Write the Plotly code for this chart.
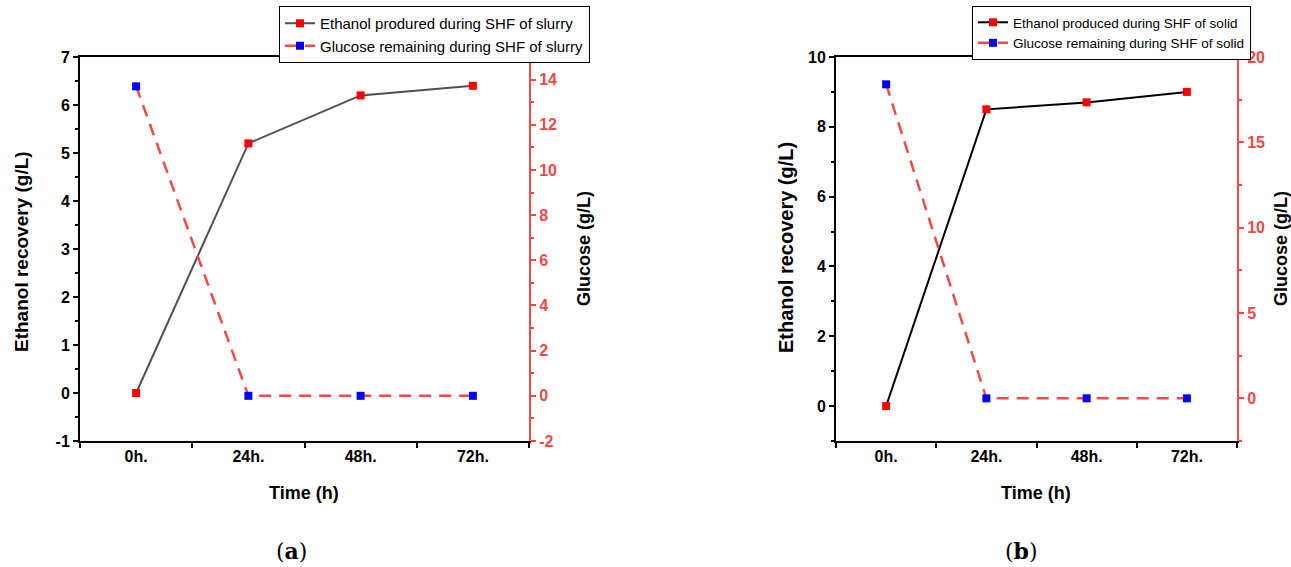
import plotly.graph_objects as go

categories = ["0h.", "24h.", "48h.", "72h."]
ethanol_a = [0, 5.2, 6.2, 6.4]
glucose_a = [13.7, 0, 0, 0]
ethanol_b = [0, 8.5, 8.7, 9.0]
glucose_b = [18.4, 0, 0, 0]

ticks_ya = [-1, 0, 1, 2, 3, 4, 5, 6, 7]
ticks_y2a = [-2, 0, 2, 4, 6, 8, 10, 12, 14]
ticks_yb = [0, 2, 4, 6, 8, 10]
ticks_y2b = [0, 5, 10, 15, 20]

W, H = 1291, 567
RED = "#f24848"
FONT = "Liberation Sans"

def px(x):
    return x / W

def py(y):
    return 1 - y / H

def lab(vals):
    return [str(v) for v in vals]

fig = go.Figure()

fig.add_trace(go.Scatter(x=categories, y=ethanol_a, mode="lines+markers",
                         name="Ethanol produred during SHF of slurry",
                         line=dict(color="#505050", width=2),
                         marker=dict(symbol="square", size=8, color="#ff0000"),
                         xaxis="x", yaxis="y", legend="legend"))
fig.add_trace(go.Scatter(x=categories, y=glucose_a, mode="lines+markers",
                         name="Glucose remaining during SHF of slurry",
                         line=dict(color=RED, width=2.5, dash="12px,8px"),
                         marker=dict(symbol="square", size=8, color="#0000ff"),
                         xaxis="x", yaxis="y2", legend="legend"))
fig.add_trace(go.Scatter(x=categories, y=ethanol_b, mode="lines+markers",
                         name="Ethanol produced during SHF of solid",
                         line=dict(color="#000000", width=2),
                         marker=dict(symbol="square", size=8, color="#ff0000"),
                         xaxis="x2", yaxis="y3", legend="legend2"))
fig.add_trace(go.Scatter(x=categories, y=glucose_b, mode="lines+markers",
                         name="Glucose remaining during SHF of solid",
                         line=dict(color=RED, width=2.5, dash="12px,8px"),
                         marker=dict(symbol="square", size=8, color="#0000ff"),
                         xaxis="x2", yaxis="y4", legend="legend2"))

tickfont = dict(family=FONT, size=16, color="#000", weight="bold")
redfont = dict(family=FONT, size=16, color=RED, weight="bold")

def xaxis(dom, anchor):
    return dict(domain=dom, anchor=anchor, type="category", categoryorder="array",
                categoryarray=categories, range=[-0.5, 3.5], tickson="boundaries",
                ticks="outside", ticklen=5, tickwidth=1.5, tickcolor="#000",
                showline=True, linecolor="#000", linewidth=2, mirror=True,
                showgrid=False, zeroline=False, tickfont=tickfont, automargin=False)

def yleft(dom, anchor, rng, tv, mdtick):
    return dict(domain=dom, anchor=anchor, range=rng, tickmode="array",
                tickvals=tv, ticktext=lab(tv),
                ticks="outside", ticklen=5, tickwidth=1.5, tickcolor="#000",
                minor=dict(dtick=mdtick, tick0=0, ticks="outside", ticklen=3, tickcolor="#000"),
                showline=True, linecolor="#000", linewidth=2,
                showgrid=False, zeroline=False, tickfont=tickfont, automargin=False)

def yright(over, anchor, rng, tv, mdtick):
    return dict(overlaying=over, anchor=anchor, side="right", range=rng, tickmode="array",
                tickvals=tv, ticktext=lab(tv),
                ticks="outside", ticklen=5, tickwidth=1.5, tickcolor=RED,
                minor=dict(dtick=mdtick, tick0=0, ticks="outside", ticklen=3, tickcolor=RED),
                showline=True, linecolor=RED, linewidth=2,
                showgrid=False, zeroline=False, tickfont=redfont, automargin=False)

ydom = [py(441), py(57)]

legend_common = dict(xanchor="left", yanchor="top", bgcolor="white", bordercolor="#000",
                     borderwidth=1, tracegroupgap=0, itemwidth=30)

fig.update_layout(
    width=W, height=H, margin=dict(l=0, r=0, t=0, b=0, autoexpand=False),
    paper_bgcolor="white", plot_bgcolor="white",
    xaxis=xaxis([px(80), px(529)], "y"),
    yaxis=yleft(ydom, "x", [-1, 7], ticks_ya, 0.5),
    yaxis2=yright("y", "x", [-2, 15], ticks_y2a, 1),
    xaxis2=xaxis([px(836), px(1237)], "y3"),
    yaxis3=yleft(ydom, "x2", [-1, 10], ticks_yb, 1),
    yaxis4=yright("y3", "x2", [-2.5, 20], ticks_y2b, 2.5),
    legend=dict(x=px(279), y=py(6), font=dict(family=FONT, size=15, color="#000"),
                **legend_common),
    legend2=dict(x=px(972), y=py(6), font=dict(family=FONT, size=13.5, color="#000"),
                 **legend_common),
    showlegend=True,
)

ann = [
    dict(text="Time (h)", x=px(304), y=py(493), textangle=0, size=18),
    dict(text="Time (h)", x=px(1036), y=py(493), textangle=0, size=18),
    dict(text="Ethanol recovery (g/L)", x=px(21), y=py(252), textangle=-90, size=19),
    dict(text="Ethanol recovery (g/L)", x=px(786), y=py(248), textangle=-90, size=20),
    dict(text="Glucose (g/L)", x=px(584), y=py(249), textangle=-90, size=18),
    dict(text="Glucose (g/L)", x=px(1281), y=py(249), textangle=-90, size=18),
]
annotations = []
for a in ann:
    s = a.pop("size")
    a.update(xref="paper", yref="paper", showarrow=False,
             font=dict(family=FONT, size=s, color="#000", weight="bold"),
             xanchor="center", yanchor="middle")
    annotations.append(a)
cap_font = dict(family="DejaVu Serif", size=22, color="#000")
annotations.append(dict(text="(<b>a</b>)", x=px(291), y=py(551), xref="paper", yref="paper",
                        showarrow=False, font=cap_font, xanchor="center", yanchor="middle"))
annotations.append(dict(text="(<b>b</b>)", x=px(1021), y=py(551), xref="paper", yref="paper",
                        showarrow=False, font=cap_font, xanchor="center", yanchor="middle"))
fig.update_layout(annotations=annotations)

fig.write_html("out.html", config={"displayModeBar": False},
               post_script="document.body.style.margin='0';document.body.style.overflow='hidden';")
